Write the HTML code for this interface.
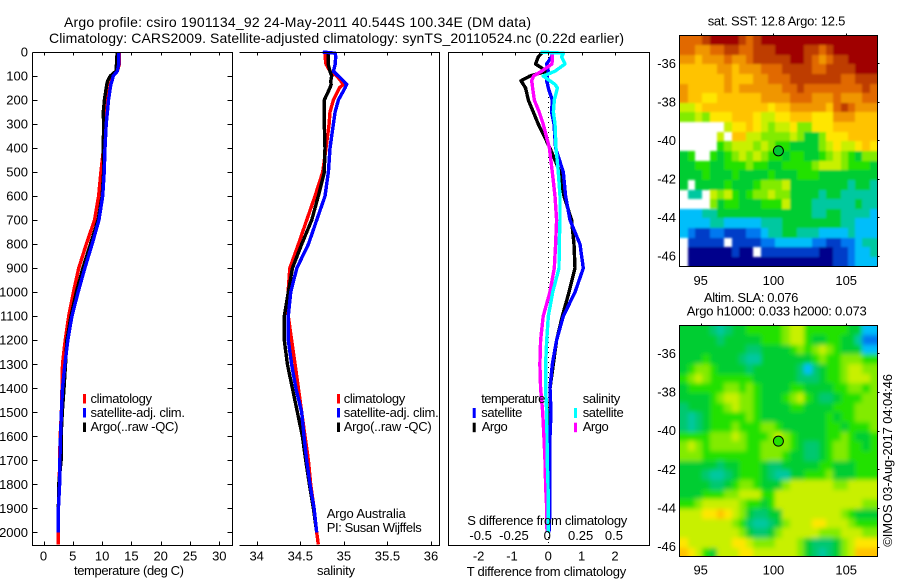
<!DOCTYPE html>
<html>
<head>
<meta charset="utf-8">
<title>Argo profile</title>
<style>
html,body{margin:0;padding:0;background:#fff;width:900px;height:580px;overflow:hidden}
svg{display:block}
text{font-family:"Liberation Sans",sans-serif;fill:#000;font-size:13px}
.t14{font-size:14px}
</style>
</head>
<body>
<svg id="chart" xmlns="http://www.w3.org/2000/svg" width="900" height="580" viewBox="0 0 900 580">
  <defs>
    <filter id="blurSst" x="-5%" y="-5%" width="110%" height="110%"><feGaussianBlur stdDeviation="1.1"/></filter>
    <filter id="blurSla" x="-5%" y="-5%" width="110%" height="110%"><feGaussianBlur stdDeviation="2.4"/></filter>
    <clipPath id="clipSst"><rect x="680" y="36" width="197" height="230"/></clipPath>
    <clipPath id="clipSla"><rect x="680" y="326" width="197" height="230"/></clipPath>
  </defs>
  <rect x="0" y="0" width="900" height="580" fill="#fff"/>
  <g clip-path="url(#clipSst)"><g id="sstCells" filter="url(#blurSst)"></g></g>
  <g clip-path="url(#clipSla)"><g id="slaCells" filter="url(#blurSla)"></g></g>
  <g id="markers"></g>
  <g id="series"></g>
  <g id="axes" fill="none" stroke="#000" stroke-width="1" shape-rendering="crispEdges">
    <path d="M32.5 52.5V545.5H232.5V52.5H32.5"/>
    <path d="M239.5 52.5H439.5V545.5H239.5"/>
    <path d="M448.5 52.5H649.5V545.5H448.5Z"/>
    <rect x="679.5" y="35.5" width="198" height="231"/>
    <rect x="679.5" y="325.5" width="198" height="231"/>
  </g>
  <g id="labels"></g>

  <text class="t14" x="64" y="27" textLength="467" lengthAdjust="spacing">Argo profile: csiro 1901134_92 24-May-2011 40.544S 100.34E (DM data)</text>
  <text class="t14" x="49" y="43" textLength="575" lengthAdjust="spacing">Climatology: CARS2009. Satellite-adjusted climatology: synTS_20110524.nc (0.22d earlier)</text>

  <text x="74" y="575" textLength="110" lengthAdjust="spacing">temperature (deg C)</text>
  <text x="317" y="575" textLength="38" lengthAdjust="spacing">salinity</text>
  <text x="466.7" y="576" textLength="159.5" lengthAdjust="spacing">T difference from climatology</text>
  <text x="467.3" y="525" textLength="160" lengthAdjust="spacing">S difference from climatology</text>

  <g>
    <rect x="83" y="394" width="3" height="9.5" fill="#f00"/>
    <rect x="83" y="408" width="3" height="9.5" fill="#00f"/>
    <rect x="83" y="422.5" width="3" height="9.5" fill="#000"/>
    <text x="90.5" y="403" textLength="61.5" lengthAdjust="spacing">climatology</text>
    <text x="90.5" y="417" textLength="94.5" lengthAdjust="spacing">satellite-adj. clim.</text>
    <text x="90.5" y="431" textLength="88" lengthAdjust="spacing">Argo(..raw -QC)</text>
  </g>
  <g>
    <rect x="337" y="394" width="3" height="9.5" fill="#f00"/>
    <rect x="337" y="408" width="3" height="9.5" fill="#00f"/>
    <rect x="337" y="422.5" width="3" height="9.5" fill="#000"/>
    <text x="343.7" y="403" textLength="61.5" lengthAdjust="spacing">climatology</text>
    <text x="343.7" y="417" textLength="95" lengthAdjust="spacing">satellite-adj. clim.</text>
    <text x="343.7" y="431" textLength="88" lengthAdjust="spacing">Argo(..raw -QC)</text>
  </g>
  <text x="326.7" y="518" textLength="79" lengthAdjust="spacing">Argo Australia</text>
  <text x="326.7" y="532" textLength="95" lengthAdjust="spacing">PI: Susan Wijffels</text>

  <g>
    <text x="481.3" y="403" textLength="64" lengthAdjust="spacing">temperature</text>
    <text x="481.3" y="417" textLength="41" lengthAdjust="spacing">satellite</text>
    <text x="481.7" y="431" textLength="26" lengthAdjust="spacing">Argo</text>
    <text x="582.7" y="403" textLength="37.6" lengthAdjust="spacing">salinity</text>
    <text x="582.7" y="417" textLength="41" lengthAdjust="spacing">satellite</text>
    <text x="582.7" y="431" textLength="26" lengthAdjust="spacing">Argo</text>
    <rect x="472.7" y="408" width="3" height="10" fill="#00f"/>
    <rect x="472.7" y="422.7" width="3" height="9.5" fill="#000"/>
    <rect x="574" y="408" width="3" height="10" fill="#0ff"/>
    <rect x="574" y="422.7" width="3" height="9.5" fill="#f0f"/>
  </g>

  <text x="707.7" y="25.5" textLength="137.6" lengthAdjust="spacing">sat. SST: 12.8 Argo: 12.5</text>
  <text x="704" y="302" textLength="94.3" lengthAdjust="spacing">Altim. SLA: 0.076</text>
  <text x="686.7" y="315.5" textLength="180" lengthAdjust="spacing">Argo h1000: 0.033 h2000: 0.073</text>
  <text transform="translate(892,546.7) rotate(-90)" x="0" y="0" textLength="172.7" lengthAdjust="spacing">©IMOS 03-Aug-2017 04:04:46</text>
</svg>

<script>
/* ---------- tick values ---------- */
const depthTicks = [0,100,200,300,400,500,600,700,800,900,1000,1100,1200,1300,1400,1500,1600,1700,1800,1900,2000];
const tempTicks = [0,5,10,15,20,25,30];
const salTicks = [34,34.5,35,35.5,36];
const diffTempTicks = [-2,-1,0,1,2];
const diffSalTicks = [-0.5,-0.25,0,0.25,0.5];
const lonTicks = [95,100,105];
const latTicks = [-36,-38,-40,-42,-44,-46];

/* ---------- profile data ---------- */
const depths = [0,5,20,50,80,100,120,135,150,200,250,300,400,500,600,700,800,900,1000,1100,1200,1300,1400,1500,1600,1700,1800,1900,2000,2050];

const tempClim = [12.9,12.9,12.9,12.95,12.6,11.9,11.6,11.4,11.3,10.8,10.6,10.5,10.25,9.8,9.4,8.7,7.3,6.0,5.1,4.3,3.7,3.25,3.15,3.05,2.85,2.75,2.7,2.55,2.55,2.55];
const tempArgo = [12.6,12.6,12.5,12.45,12.35,11.4,10.95,10.8,10.7,10.4,10.2,10.25,10.2,10.25,10,9.3,8,6.7,5.6,4.7,4,3.75,3.5,3.2,3,3,2.6,2.55,2.55];
const tempSat = [12.85,12.85,12.85,12.85,12.6,11.9,11.7,11.5,11.4,11.1,10.9,10.7,10.5,10.35,10.1,9.45,8.3,7.05,5.9,4.85,4.15,3.65,3.25,3.05,2.9,2.8,2.75,2.55,2.55];

const salClim = [34.784,34.784,34.784,34.795,34.841,34.92,34.964,34.994,34.948,34.88,34.841,34.83,34.795,34.757,34.669,34.574,34.478,34.38,34.36,34.363,34.40,34.44,34.478,34.516,34.554,34.593,34.62,34.658,34.688,34.707];
const salArgo = [34.82,34.82,34.82,34.82,34.84,34.86,34.85,34.853,34.84,34.776,34.776,34.776,34.784,34.776,34.707,34.631,34.516,34.41,34.363,34.317,34.317,34.352,34.41,34.467,34.524,34.562,34.604,34.65,34.688];
const salSat = [34.757,34.90,34.906,34.90,34.88,34.937,34.994,35.033,35.013,34.937,34.899,34.88,34.841,34.822,34.784,34.688,34.593,34.46,34.39,34.363,34.363,34.40,34.45,34.516,34.543,34.574,34.612,34.658,34.688];

const diffTempArgo = [-0.2,-0.2,-0.3,-0.38,-0.05,-0.55,-0.82,-0.75,-0.68,-0.6,-0.45,-0.3,0.05,0.35,0.47,0.7,0.77,0.8,0.62,0.42,0.25,0.15,0.05,0.05,0.03,0.03,0.03,0.03,0.02];
const diffTempSat = [0.13,0.13,0.1,-0.05,0,-0.03,-0.05,-0.02,0,0.12,0.1,0.17,0.22,0.45,0.52,0.65,0.95,1.05,0.8,0.45,0.25,0.12,0.05,0.08,0.05,0.05,0.05,0.05,0.02];
const diffSalSat = [-0.06,0.113,0.1,0.125,0.05,-0.038,0.012,0.05,0.068,0.045,0.038,0.05,0.058,0.075,0.088,0.088,0.082,0.08,0.033,0,-0.012,-0.02,-0.02,-0.012,-0.01,-0.008,-0.002,0,0];
const diffSalArgo = [0.033,0.033,0.03,0.028,-0.05,-0.11,-0.125,-0.12,-0.118,-0.105,-0.068,-0.038,0.008,0.03,0.05,0.062,0.055,0.045,0.012,-0.038,-0.058,-0.063,-0.058,-0.042,-0.033,-0.025,-0.02,-0.012,-0.01];

/* ---------- map data: one char per cell (0..f colour level, w = no data) ---------- */
const sstRows = [
"cccdeeeedcdeeeeeeeeeeeeeeee",
"ccbbccddccdddeeeeddcdeeeeee",
"bbabbbcbbcdddddeedcbcddeeee",
"aaaaabbabbbcccddddccddddeee",
"aaaaaabaaabbcccdddddddccddd",
"baaaaababbbbbbccdccccccccdc",
"baa99aaaaaabbbbcccbbbcbbbcc",
"889aaaaaaaaa9aabbbbbacdcbbb",
"7787999aaa98899aaa999bbbaaa",
"wwwwww899a98788977999aaaaaa",
"wwwww8waa88777787557999aaaa",
"wwwww67888787665555789889a9",
"56ww65678787665665567876577",
"556655666766556666788876665",
"555655565555655566655555555",
"5w5555655567778555555554554",
"w44w87865677877555545544444",
"wwww75665556668555444444544",
"333445555555555555445544443",
"333344333334445555555544333",
"321122111223445544433334333",
"w11111w11112233333221122344",
"w000000100w1111111100112334",
"w00000000000000000000112333"
];
const slaRows = [
"5555f4f55666667886666665533",
"55555f555556667886556655422",
"555555555ff5555676787655533",
"55565555f445555555676677766",
"567765555f555555f3f56678877",
"6787666666555555fff56678887",
"566666776765555665555667767",
"5555678877655567865ff566677",
"f55566787765555665555666777",
"f4f566666765555555556566777",
"f4f566676667765555556656667",
"666677787666787655556676556",
"78767777766777765ff56776656",
"77766666666777655ff56776666",
"55555f556665ff5555566555666",
"555f44f56665f44556667555666",
"5555ff567765557888888778888",
"555666778886688888888888888",
"667888887665688888888888877",
"88899a9875ff558888888876555",
"888888876f44f57888998887666",
"8888888875ff578888877788877",
"988888899877788875fff578999",
"a98658889988888875f4f578aaa"
];
const floatLon = [100.34];
const floatLat = [-40.544];

/* ---------- axis functions ---------- */
function yDepth(d){ return 52 + 0.2402 * d; }
function xTemp(t){ return 43.5 + 5.86 * t; }
function xSal(s){ return 256.7 + 87.17 * (s - 34); }
function xDiffT(t){ return 548.3 + 33.33 * t; }
function xDiffS(s){ return 548.3 + 133.33 * s; }
function xLon(lon){ return 700.7 + 14.55 * (lon - 95); }
function yLatTop(lat){ return 63.3 + 19.27 * (-36 - lat); }
function yLatBottom(lat){ return 353.3 + 19.33 * (-36 - lat); }

const SVGNS = 'http://www.w3.org/2000/svg';
const seriesG = document.getElementById('series');
const labelsG = document.getElementById('labels');
const axesG = document.getElementById('axes');
const markersG = document.getElementById('markers');

function make(tag, attrs, parent){
  const el = document.createElementNS(SVGNS, tag);
  for (const k in attrs) el.setAttribute(k, attrs[k]);
  parent.appendChild(el);
  return el;
}
function drawLine(values, xFn, color, name){
  const pts = values.map(function(v, i){ return xFn(v).toFixed(1) + ',' + yDepth(depths[i]).toFixed(1); }).join(' ');
  const el = make('polyline', {points: pts, fill: 'none', stroke: color, 'stroke-width': 3.4, 'shape-rendering': 'crispEdges', 'stroke-linejoin': 'round'}, seriesG);
  
  
}
function tickLine(x1, y1, x2, y2){
  const el = make('line', {x1: Math.round(x1) + 0.5, y1: Math.round(y1) + 0.5, x2: Math.round(x2) + 0.5, y2: Math.round(y2) + 0.5}, axesG);
  
  
}
function tickText(x, y, str, anchor){
  const el = make('text', {x: x, y: y, 'text-anchor': anchor}, labelsG);
  el.textContent = str;
  
  
}

/* ---------- zero line and series ---------- */
const zeroLine = make('line', {x1: xDiffT(0), x2: xDiffT(0), y1: yDepth(0), y2: yDepth(2050), stroke: '#000', 'stroke-width': 1, 'stroke-dasharray': '1 4', 'shape-rendering': 'crispEdges'}, seriesG);



drawLine(tempClim, xTemp, '#f00', 'temperature-climatology-line');
drawLine(tempArgo, xTemp, '#000', 'temperature-argo-line');
drawLine(tempSat, xTemp, '#00f', 'temperature-satellite-line');
drawLine(salClim, xSal, '#f00', 'salinity-climatology-line');
drawLine(salArgo, xSal, '#000', 'salinity-argo-line');
drawLine(salSat, xSal, '#00f', 'salinity-satellite-line');
drawLine(diffTempArgo, xDiffT, '#000', 'difference-t-argo-line');
drawLine(diffTempSat, xDiffT, '#00f', 'difference-t-satellite-line');
drawLine(diffSalArgo, xDiffS, '#f0f', 'difference-s-argo-line');
drawLine(diffSalSat, xDiffS, '#0ff', 'difference-s-satellite-line');

/* ---------- profile-panel ticks ---------- */
depthTicks.forEach(function(d){
  const y = yDepth(d);
  tickLine(32, y, 37, y);
  tickLine(227, y, 232, y);
  tickText(28, y + 4.5, String(d), 'end');
});
tempTicks.forEach(function(t){
  const x = xTemp(t);
  tickLine(x, 52, x, 55);
  tickLine(x, 541, x, 545);
  tickText(x, 560.5, String(t), 'middle');
});
salTicks.forEach(function(s){
  const x = xSal(s);
  tickLine(x, 52, x, 55);
  tickLine(x, 541, x, 545);
  tickText(x, 560.5, String(s), 'middle');
});
diffTempTicks.forEach(function(t){
  const x = xDiffT(t);
  tickLine(x, 52, x, 55);
  tickText(x - (t < 0 ? 3 : 0), 560.5, String(t), 'middle');
});
diffSalTicks.forEach(function(s){
  tickText(xDiffS(s) - 1, 540, String(s), 'middle');
});

/* ---------- colour scale ---------- */
function levelColor(level){
  const scale = ['#00008c','#003cc8','#0078f0','#00befa','#00c8a0','#00cd32','#23e100','#82eb00','#c8f000','#ffe600','#ffc300','#f09600','#e16900','#be3c00','#a00000','#00c870'];
  return scale[level];
}

/* ---------- maps ---------- */
function drawMap(rows, yFn, parent, name){
  const lon0 = 93.62, lat0 = -34.55, cell = 0.5, bleed = 8;
  rows.forEach(function(row, r){
    for (let c = 0; c < row.length; c++){
      const ch = row[c];
      if (ch === 'w') continue;
      let x1 = xLon(lon0 + c * cell);
      let x2 = xLon(lon0 + (c + 1) * cell);
      let y1 = yFn(lat0 - r * cell);
      let y2 = yFn(lat0 - (r + 1) * cell);
      if (c === 0) x1 -= bleed;
      if (c === row.length - 1) x2 += bleed;
      if (r === 0) y1 -= bleed;
      if (r === rows.length - 1) y2 += bleed;
      const el = make('rect', {x: Math.round(x1), y: Math.round(y1), width: Math.round(x2) - Math.round(x1), height: Math.round(y2) - Math.round(y1), fill: levelColor(parseInt(ch, 16)), 'shape-rendering': 'crispEdges'}, parent);
      
      
    }
  });
}
drawMap(sstRows, yLatTop, document.getElementById('sstCells'), 'sst-map');
drawMap(slaRows, yLatBottom, document.getElementById('slaCells'), 'sla-map');

function mapAxes(yFn, top, lonLabelY){
  lonTicks.forEach(function(lon){
    const x = xLon(lon);
    tickLine(x, top - 2, x, top);
    tickText(x, lonLabelY, String(lon), 'middle');
  });
  latTicks.forEach(function(lat){
    const y = yFn(lat);
    tickLine(877, y, 879, y);
    tickText(676, y + 4.5, String(lat), 'end');
  });
}
mapAxes(yLatTop, 35, 285);
mapAxes(yLatBottom, 325, 574.5);

floatLon.forEach(function(lon, i){
  const c1 = make('circle', {cx: xLon(lon), cy: yLatTop(floatLat[i]), r: 5, fill: '#00c832', stroke: '#000', 'stroke-width': 1}, markersG);
  
  
  const c2 = make('circle', {cx: xLon(lon), cy: yLatBottom(floatLat[i]), r: 5, fill: '#23e100', stroke: '#000', 'stroke-width': 1}, markersG);
  
  
});
</script>
</body>
</html>
